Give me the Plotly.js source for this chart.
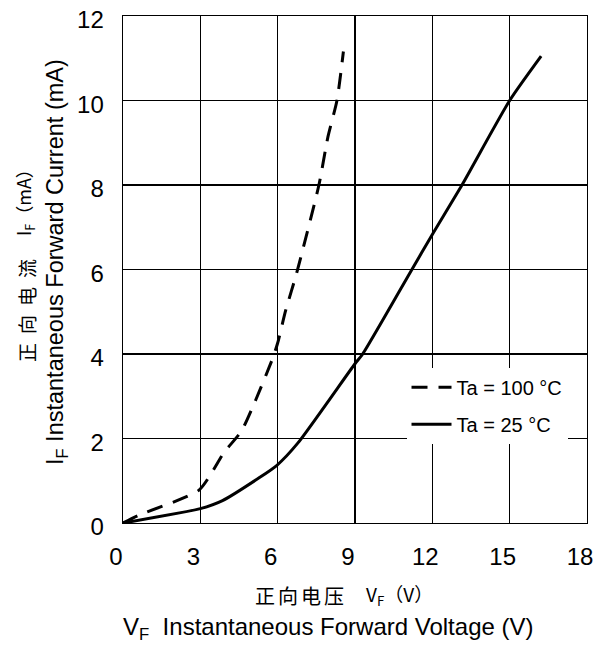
<!DOCTYPE html>
<html>
<head>
<meta charset="utf-8">
<script src="https://cdn.plot.ly/plotly-3.0.1.min.js"></script>
<style>html,body{margin:0;padding:0;background:#fff;}#chart{width:596px;height:645px;}</style>
</head>
<body>
<div id="chart"></div>
<script>
// Ta = 25 °C (solid)
const vf25 = [0, 3.0, 3.86, 5.28, 5.96, 6.78, 9.0, 9.3, 11.18, 12.0, 13.15, 15.0, 16.22];
const if25 = [0, 0.34, 0.53, 1.07, 1.36, 1.89, 3.77, 4.0, 5.97, 6.83, 8.0, 10.0, 11.05];
// Ta = 100 °C (dashed)
const vf100 = [0, 0.67, 2.95, 3.92, 4.6, 5.14, 5.82, 6.0, 6.31, 6.72, 7.6, 7.95, 8.3, 8.55];
const if100 = [0, 0.2, 0.78, 1.67, 2.18, 2.9, 3.92, 4.26, 5.03, 5.88, 8.0, 9.14, 10.0, 11.16];

const xTicks = [0, 3, 6, 9, 12, 15, 18];
const yTicks = [0, 2, 4, 6, 8, 10, 12];
const seriesNames = ['Ta = 100 °C', 'Ta = 25 °C'];
const xTitleCn = '正向电压';
const xTitleCnUnit = 'V<sub>F</sub>（V）';
const xTitleEn = 'V<sub>F</sub>  Instantaneous Forward Voltage (V)';
const yTitleCn = '正向电流';
const yTitleCnUnit = 'I<sub>F</sub>（mA）';
const yTitleEn = 'I<sub>F</sub> Instantaneous Forward Current (mA)';

const fontEn = 'Liberation Sans, Arial, sans-serif';
const fontCn = 'Noto Sans CJK SC, sans-serif';

const traces = [
  {x: vf100, y: if100, mode: 'lines', name: seriesNames[0], legendgroup: 'a',
   line: {color: '#000', width: 3, dash: '16px,11px', shape: 'spline', smoothing: 0.6}},
  {x: vf25, y: if25, mode: 'lines', name: seriesNames[1], legendgroup: 'b',
   line: {color: '#000', width: 3, shape: 'spline', smoothing: 0.6}}
];

const axisCommon = {
  showgrid: true, gridcolor: '#000', gridwidth: 1.4,
  showline: true, linecolor: '#000', linewidth: 1.4, mirror: true,
  zeroline: false, ticks: '', ticklabeloverflow: 'allow',
  tickfont: {family: fontEn, size: 24, color: '#000'}
};

const W = 464, H = 507, L = 123, T = 16;
function px(xp) { return (xp - L) / W; }
function py(yp) { return (T + H - yp) / H; }

const layout = {
  width: 596, height: 645,
  margin: {l: L, r: 596 - L - W, t: T, b: 645 - T - H},
  paper_bgcolor: '#fff', plot_bgcolor: '#fff',
  showlegend: true,
  legend: {x: 0.611, y: 0.306, xanchor: 'left', yanchor: 'top', bgcolor: '#fff',
    borderwidth: 0, font: {family: fontEn, size: 20, color: '#000'},
    traceorder: 'grouped', tracegroupgap: 8, itemwidth: 40},
  xaxis: Object.assign({}, axisCommon, {range: [0, 18], tickvals: xTicks, ticktext: xTicks.map(String),
    ticklabelstandoff: 12, ticklabelshift: -7}),
  yaxis: Object.assign({}, axisCommon, {range: [0, 12], tickvals: yTicks, ticktext: yTicks.map(String),
    ticklabelstandoff: 13, ticklabelshift: 4}),
  annotations: [
    {text: xTitleCn, xref: 'paper', yref: 'paper', x: px(301), y: py(595), xanchor: 'center', yanchor: 'middle',
     showarrow: false, font: {family: fontCn, size: 20, color: '#000'}},
    {text: xTitleCnUnit, xref: 'paper', yref: 'paper', x: px(399), y: py(595), xanchor: 'center', yanchor: 'middle',
     showarrow: false, font: {family: fontCn, size: 19, color: '#000'}},
    {text: xTitleEn, xref: 'paper', yref: 'paper', x: px(328.5), y: py(628), xanchor: 'center', yanchor: 'middle',
     showarrow: false, font: {family: fontEn, size: 24, color: '#000'}},
    {text: yTitleCn, xref: 'paper', yref: 'paper', x: px(26), y: py(306), xanchor: 'center', yanchor: 'middle',
     textangle: -90, showarrow: false, font: {family: fontCn, size: 19, color: '#000'}},
    {text: yTitleCnUnit, xref: 'paper', yref: 'paper', x: px(25), y: py(198), xanchor: 'center', yanchor: 'middle',
     textangle: -90, showarrow: false, font: {family: fontCn, size: 18, color: '#000'}},
    {text: yTitleEn, xref: 'paper', yref: 'paper', x: px(56), y: py(262), xanchor: 'center', yanchor: 'middle',
     textangle: -90, showarrow: false, font: {family: fontEn, size: 23.5, color: '#000'}}
  ]
};

Plotly.newPlot('chart', traces, layout, {displayModeBar: false, staticPlot: true}).then(function () {
  document.querySelectorAll('.annotation-text').forEach(function (el) {
    const t = el.getAttribute('data-unformatted');
    if (t === xTitleCn) el.style.letterSpacing = '3px';
    if (t === yTitleCn) el.style.letterSpacing = '9px';
  });
});
</script>
</body>
</html>
